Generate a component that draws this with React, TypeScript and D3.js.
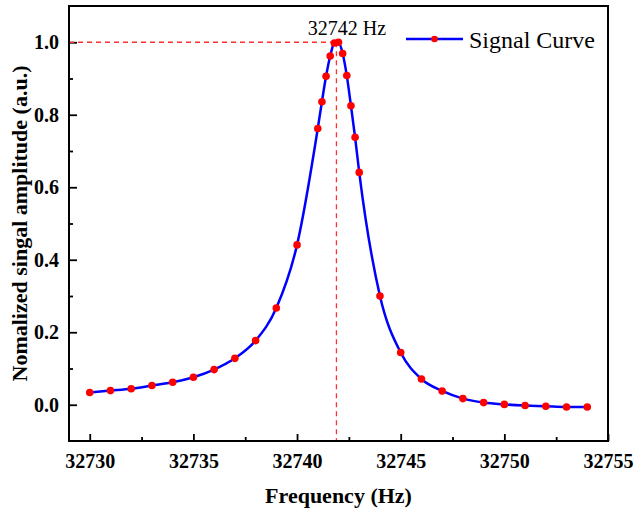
import React, { useEffect, useRef } from 'react';
import * as d3 from 'd3';

// frequency points (Hz), denser sampling around the resonance
const frequencies = [
  32730, 32731, 32732, 32733, 32734, 32735, 32736, 32737, 32738, 32739, 32740, 32741,
  32741.2, 32741.4, 32741.6, 32741.8, 32742, 32742.2, 32742.4, 32742.6, 32742.8, 32743,
  32744, 32745, 32746, 32747, 32748, 32749, 32750, 32751, 32752, 32753, 32754,
];

const amplitudes = [
  0.034, 0.039, 0.044, 0.053, 0.062, 0.076, 0.097, 0.128, 0.177, 0.267, 0.441, 0.762,
  0.836, 0.906, 0.962, 0.998, 1.0, 0.969, 0.908, 0.825, 0.738, 0.641,
  0.3, 0.144, 0.071, 0.038, 0.017, 0.006, 0.001, -0.002, -0.004, -0.006, -0.006,
];

const xMajorTicks = [32730, 32735, 32740, 32745, 32750, 32755];
const xMinorTicks = [32732.5, 32737.5, 32742.5, 32747.5, 32752.5];
const yMajorTicks = [0, 0.2, 0.4, 0.6, 0.8, 1.0];
const yMinorTicks = [0.1, 0.3, 0.5, 0.7, 0.9];

const peakFrequency = 32741.9;
const peakLabel = '32742 Hz';
const seriesName = 'Signal Curve';
const xTitle = 'Frequency (Hz)';
const yTitle = 'Nomalized singal amplitude (a.u.)';

const width = 634;
const height = 512;
const margin = { top: 6, right: 26, bottom: 71, left: 69 };
const font = "'Times New Roman', 'Liberation Serif', serif";

export default function App() {
  const svgRef = useRef<SVGSVGElement | null>(null);

  useEffect(() => {
    const svg = d3.select(svgRef.current);
    svg.selectAll('*').remove();

    const x = d3
      .scaleLinear()
      .domain([32729, 32755])
      .range([margin.left, width - margin.right]);
    const y = d3
      .scaleLinear()
      .domain([-0.1, 1.1])
      .range([height - margin.bottom, margin.top]);

    const data = frequencies.map((f, i) => ({ f, a: amplitudes[i] }));

    // axes: ticks point inward
    const xAxis = svg
      .append('g')
      .attr('transform', `translate(0,${y(-0.1)})`)
      .call(
        d3
          .axisBottom(x)
          .tickValues(xMajorTicks)
          .tickSize(-7)
          .tickPadding(13)
          .tickFormat(d3.format('d')),
      );
    xAxis.select('.domain').remove();
    xAxis.selectAll('line').attr('stroke', '#000').attr('stroke-width', 1.8);
    xAxis
      .selectAll('text')
      .attr('font-family', font)
      .attr('font-size', 20)
      .attr('font-weight', 'bold')
      .attr('fill', '#000');

    const xMinor = svg
      .append('g')
      .attr('transform', `translate(0,${y(-0.1)})`)
      .call(d3.axisBottom(x).tickValues(xMinorTicks).tickSize(-4).tickFormat(() => ''));
    xMinor.select('.domain').remove();
    xMinor.selectAll('line').attr('stroke', '#000').attr('stroke-width', 1.8);

    const yAxis = svg
      .append('g')
      .attr('transform', `translate(${x(32729)},0)`)
      .call(
        d3
          .axisLeft(y)
          .tickValues(yMajorTicks)
          .tickSize(-8)
          .tickPadding(10)
          .tickFormat(d3.format('.1f')),
      );
    yAxis.select('.domain').remove();
    yAxis.selectAll('line').attr('stroke', '#000').attr('stroke-width', 1.8);
    yAxis
      .selectAll('text')
      .attr('font-family', font)
      .attr('font-size', 20)
      .attr('font-weight', 'bold')
      .attr('fill', '#000');

    const yMinor = svg
      .append('g')
      .attr('transform', `translate(${x(32729)},0)`)
      .call(d3.axisLeft(y).tickValues(yMinorTicks).tickSize(-4).tickFormat(() => ''));
    yMinor.select('.domain').remove();
    yMinor.selectAll('line').attr('stroke', '#000').attr('stroke-width', 1.8);

    // dashed guides to the peak
    svg
      .append('line')
      .attr('x1', x(32729))
      .attr('x2', x(32741.8))
      .attr('y1', y(1.0))
      .attr('y2', y(1.0))
      .attr('stroke', '#ff3030')
      .attr('stroke-width', 1.3)
      .attr('stroke-dasharray', '5,4');
    svg
      .append('line')
      .attr('x1', x(peakFrequency))
      .attr('x2', x(peakFrequency))
      .attr('y1', y(1.0))
      .attr('y2', y(-0.1))
      .attr('stroke', '#ff3030')
      .attr('stroke-width', 1.3)
      .attr('stroke-dasharray', '5,4');

    // curve + markers
    const line = d3
      .line<{ f: number; a: number }>()
      .x(d => x(d.f))
      .y(d => y(d.a))
      .curve(d3.curveMonotoneX);

    svg
      .append('path')
      .datum(data)
      .attr('d', line)
      .attr('fill', 'none')
      .attr('stroke', '#0000ff')
      .attr('stroke-width', 2.5);

    svg
      .selectAll('circle.pt')
      .data(data)
      .enter()
      .append('circle')
      .attr('class', 'pt')
      .attr('cx', d => x(d.f))
      .attr('cy', d => y(d.a))
      .attr('r', 3.8)
      .attr('fill', '#ff0000');

    // frame
    svg
      .append('rect')
      .attr('x', margin.left)
      .attr('y', margin.top)
      .attr('width', width - margin.left - margin.right)
      .attr('height', height - margin.top - margin.bottom)
      .attr('fill', 'none')
      .attr('stroke', '#000')
      .attr('stroke-width', 2);

    svg
      .append('text')
      .attr('x', 347)
      .attr('y', 35)
      .attr('text-anchor', 'middle')
      .attr('font-family', font)
      .attr('font-size', 20)
      .attr('fill', '#000')
      .text(peakLabel);

    // legend
    const legend = svg.append('g');
    legend
      .append('line')
      .attr('x1', 406)
      .attr('x2', 463)
      .attr('y1', 39)
      .attr('y2', 39)
      .attr('stroke', '#0000ff')
      .attr('stroke-width', 2.5);
    legend.append('circle').attr('cx', 434.5).attr('cy', 39).attr('r', 3.3).attr('fill', '#ff0000');
    legend
      .append('text')
      .attr('x', 469)
      .attr('y', 48)
      .attr('font-family', font)
      .attr('font-size', 24)
      .attr('fill', '#000')
      .text(seriesName);

    // axis titles
    svg
      .append('text')
      .attr('x', (margin.left + width - margin.right) / 2)
      .attr('y', 503)
      .attr('text-anchor', 'middle')
      .attr('font-family', font)
      .attr('font-size', 22)
      .attr('font-weight', 'bold')
      .attr('fill', '#000')
      .text(xTitle);

    svg
      .append('text')
      .attr('transform', `translate(27,${(margin.top + height - margin.bottom) / 2}) rotate(-90)`)
      .attr('text-anchor', 'middle')
      .attr('font-family', font)
      .attr('font-size', 22)
      .attr('font-weight', 'bold')
      .attr('fill', '#000')
      .text(yTitle);
  }, []);

  return (
    <svg
      ref={svgRef}
      width={width}
      height={height}
      style={{ position: 'absolute', left: 0, top: 0, background: '#fff' }}
    />
  );
}
